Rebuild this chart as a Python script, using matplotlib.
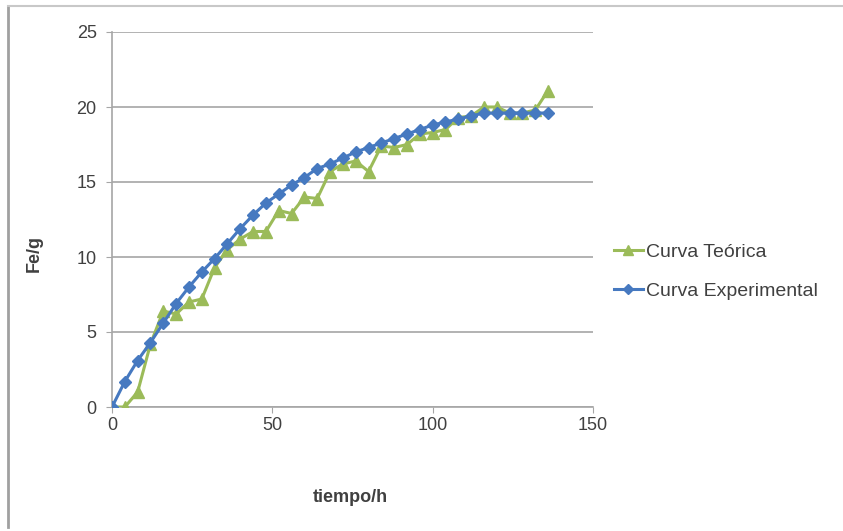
import numpy as np
import matplotlib
matplotlib.use('Agg')
import matplotlib.pyplot as plt
from matplotlib.lines import Line2D

plt.rcParams['font.family'] = ['Liberation Sans', 'DejaVu Sans']

# tiempo en horas (cada 4 h)
tiempo = np.arange(0, 140, 4)

# curva experimental
fe_experimental = [0.0, 1.7, 3.1, 4.3, 5.6, 6.9, 8.0, 9.0, 9.9, 10.9,
                   11.9, 12.8, 13.6, 14.2, 14.8, 15.3, 15.9, 16.2, 16.6, 17.0,
                   17.3, 17.6, 17.9, 18.2, 18.5, 18.8, 19.0, 19.2, 19.4, 19.6,
                   19.6, 19.6, 19.6, 19.6, 19.6]

# curva teorica
fe_teorica = [0.0, 0.0, 1.0, 4.2, 6.4, 6.2, 7.0, 7.2, 9.3, 10.5,
              11.2, 11.7, 11.7, 13.1, 12.9, 14.0, 13.9, 15.7, 16.2, 16.4,
              15.7, 17.4, 17.3, 17.5, 18.2, 18.3, 18.5, 19.3, 19.4, 20.0,
              20.0, 19.6, 19.6, 19.8, 21.1]

verde = '#9bbb59'
azul = '#4679c0'
texto = '#404040'

fig = plt.figure(figsize=(8.43, 5.31), dpi=100)
ax = fig.add_axes((112 / 843, 1 - 407 / 531, 481 / 843, 375 / 531))

ax.plot(tiempo, fe_teorica, color=verde, lw=2.2, marker='^', ms=8,
        label='Curva Teórica', zorder=3)
ax.plot(tiempo, fe_experimental, color=azul, lw=2.2, marker='D', ms=6.5,
        label='Curva Experimental', zorder=4)

ax.set_xlim(0, 150)
ax.set_ylim(0, 25)
ax.set_xticks([0, 50, 100, 150])
ax.set_yticks(np.arange(0, 26, 5))
ax.grid(axis='y', color='#a6a6a6', lw=1.2)
ax.set_axisbelow(True)
for s in ['top', 'right']:
    ax.spines[s].set_visible(False)
for s in ['left', 'bottom']:
    ax.spines[s].set_color('#a6a6a6')
    ax.spines[s].set_linewidth(1.2)
ax.tick_params(colors='#a6a6a6', labelcolor=texto, labelsize=13, length=4)
ax.tick_params(axis='x', pad=3)
ax.tick_params(axis='y', pad=7)

ax.set_xlabel('tiempo/h', fontsize=13, fontweight='bold', color=texto)
ax.set_ylabel('Fe/g', fontsize=13, fontweight='bold', color=texto)
ax.xaxis.set_label_coords(0.495, -0.22)
ax.yaxis.set_label_coords(-0.145, 0.41)

# leyenda a la derecha
handles = [Line2D([], [], color=verde, lw=2.2, marker='^', ms=7),
           Line2D([], [], color=azul, lw=2.2, marker='D', ms=5)]
fig.legend(handles, ['Curva Teórica', 'Curva Experimental'],
           loc='upper left', bbox_to_anchor=(596 / 843, 1 - 226 / 531),
           frameon=False, fontsize=14, labelspacing=1.1, handlelength=1.5,
           handletextpad=0.15, labelcolor=texto)

# marco del grafico
fig.add_artist(Line2D([8 / 843, 8 / 843], [1 - 6 / 531, 1 - 527 / 531],
                      transform=fig.transFigure, color='#a0a0a0', lw=2))
fig.add_artist(Line2D([8 / 843, 1], [1 - 6 / 531, 1 - 6 / 531],
                      transform=fig.transFigure, color='#c8c8c8', lw=1.5))

fig.savefig('out.png', dpi=100)
